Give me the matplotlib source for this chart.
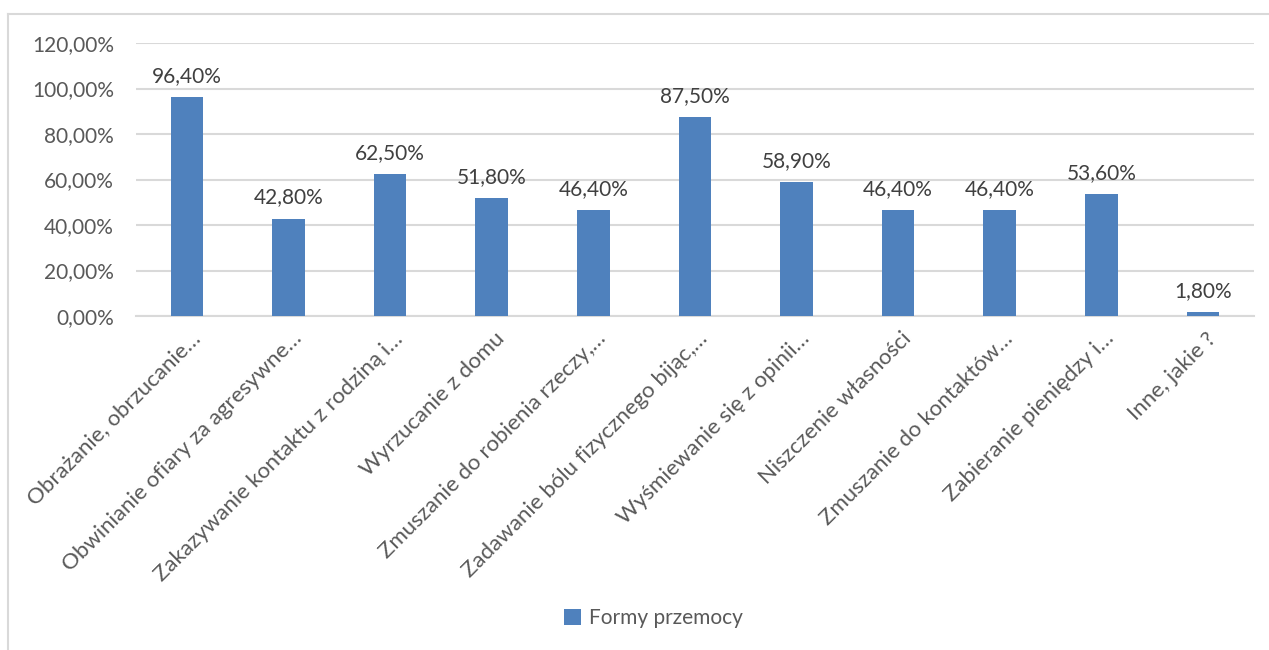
import numpy as np
import matplotlib.pyplot as plt
from matplotlib.lines import Line2D
from matplotlib.ticker import FuncFormatter
from matplotlib.transforms import ScaledTranslation

plt.rcParams['font.family'] = ['Lato', 'DejaVu Sans']

categories = ["Obrażanie, obrzucanie…", "Obwinianie ofiary za agresywne…",
              "Zakazywanie kontaktu z rodziną i…", "Wyrzucanie z domu",
              "Zmuszanie do robienia rzeczy,…", "Zadawanie bólu fizycznego bijąc,…",
              "Wyśmiewanie się z opinii…", "Niszczenie własności",
              "Zmuszanie do kontaktów…", "Zabieranie pieniędzy i…", "Inne, jakie ?"]
values = [96.4, 42.8, 62.5, 51.8, 46.4, 87.5, 58.9, 46.4, 46.4, 53.6, 1.8]
series_name = "Formy przemocy"

bar_col = '#4F81BD'
txt_col = '#595959'
grid_col = '#D9D9D9'

def pl(v, dec=2):
    return f"{v:.{dec}f}".replace('.', ',') + '%'

fig = plt.figure(figsize=(12.69, 6.5), dpi=100)
ax = fig.add_axes([0.1072, 0.5138, 0.8808, 0.42])

x = np.arange(len(categories))
bars = ax.bar(x, values, width=0.32, color=bar_col, zorder=3, label=series_name)

for xi, v in zip(x, values):
    ax.annotate(pl(v), (xi, v), xytext=(0, 8), textcoords='offset points',
                ha='center', va='bottom', fontsize=15, color='#404040')

ax.set_xlim(-0.5, len(categories) - 0.5)
ax.set_ylim(0, 120)
ax.set_yticks(np.arange(0, 121, 20))
ax.yaxis.set_major_formatter(FuncFormatter(lambda v, p: pl(v)))
ax.yaxis.grid(True, color=grid_col, linewidth=1.5, zorder=0)
for s in ['top', 'right', 'left']:
    ax.spines[s].set_visible(False)
ax.spines['bottom'].set_color(grid_col)
ax.spines['bottom'].set_linewidth(1.5)
ax.tick_params(axis='y', length=0, labelsize=15, colors=txt_col, pad=16)

ax.set_xticks(x)
ax.set_xticklabels(categories, rotation=45, ha='right', va='top',
                   rotation_mode='anchor', fontsize=16, color=txt_col)
ax.tick_params(axis='x', length=0, pad=9)
shift = ScaledTranslation(2 / 72, 0, fig.dpi_scale_trans)
for lab in ax.get_xticklabels():
    lab.set_transform(lab.get_transform() + shift)

fig.legend(handles=[bars], labels=[series_name], loc='center',
           bbox_to_anchor=(0.515, 0.049), frameon=False, fontsize=15,
           labelcolor=txt_col, handlelength=0.8, handleheight=0.8,
           handletextpad=0.4)

# outer chart frame (left and top edges visible)
fig.add_artist(Line2D([8/1269, 8/1269], [0, 1 - 14/650], transform=fig.transFigure,
                      color=grid_col, linewidth=1.5))
fig.add_artist(Line2D([8/1269, 1], [1 - 14/650, 1 - 14/650], transform=fig.transFigure,
                      color=grid_col, linewidth=1.5))

fig.savefig('out.png', dpi=100, facecolor='white')
